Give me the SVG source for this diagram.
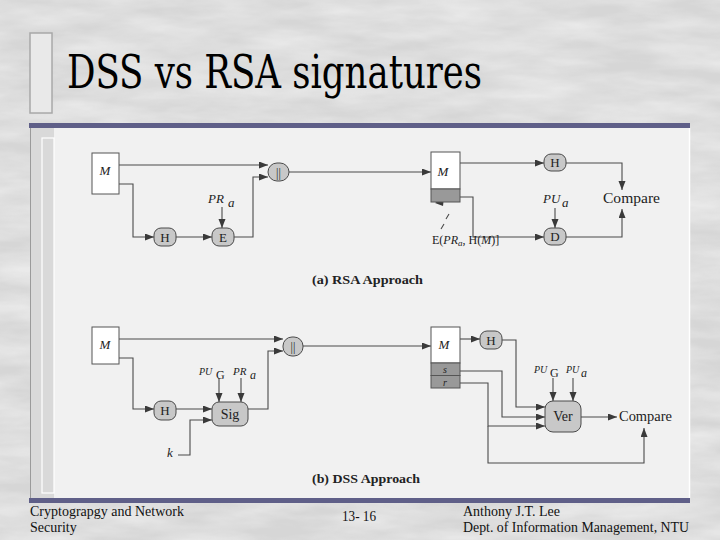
<svg xmlns="http://www.w3.org/2000/svg" width="720" height="540" viewBox="0 0 720 540">
<defs>
<filter id="marble" x="0" y="0" width="100%" height="100%">
<feTurbulence type="fractalNoise" baseFrequency="0.012 0.05" numOctaves="4" seed="7" result="n"/>
<feColorMatrix type="matrix" values="0 0 0 0 1  0 0 0 0 1  0 0 0 0 1  -1.6 0 0 0 1.2" />
</filter>
<marker id="ah" markerUnits="userSpaceOnUse" markerWidth="10" markerHeight="8" refX="9" refY="3.5" orient="auto">
<path d="M0,0 L9,3.5 L0,7 z" fill="#3a3a3a"/>
</marker>
<style>
.bg{fill:#d6d6d6}
.bar{fill:#5f5f88}
.c{fill:none;stroke:#4a4a4a;stroke-width:1.1}
.a{marker-end:url(#ah)}
.box{fill:#ffffff;stroke:#555;stroke-width:1}
.nd{fill:#c8c8c8;stroke:#4a4a4a;stroke-width:1}
.dk{fill:#999999;stroke:#555;stroke-width:1}
.t{font-family:"Liberation Serif","Times New Roman",serif;fill:#222}
.i{font-style:italic}
.b{font-weight:bold}
.f{font-family:"Liberation Serif","Times New Roman",serif;fill:#111;font-size:14px}
.ttl{font-family:"DejaVu Serif Condensed","DejaVu Serif",serif;fill:#000;font-size:46px}
</style>
</defs>
<rect class="bg" x="0" y="0" width="720" height="540"/>
<rect x="0" y="0" width="720" height="540" filter="url(#marble)" opacity="0.5"/>

<!-- title -->
<g id="title">
<rect x="30" y="33" width="22" height="80" fill="#e9e9e9" stroke="#a8a8a8" stroke-width="1.5"/>
<text class="ttl" x="67" y="88" textLength="415" lengthAdjust="spacingAndGlyphs">DSS vs RSA signatures</text>
</g>

<!-- picture frame -->
<rect class="bar" x="29" y="123" width="661" height="5"/>
<rect x="30" y="128" width="659" height="370" fill="#f1f1f1"/>
<rect x="30" y="128" width="24" height="370" fill="#d9d9d9"/>
<rect x="42" y="138" width="12" height="355" fill="none" stroke="#ffffff" stroke-width="1.2"/>
<line x1="30.5" y1="128" x2="30.5" y2="498" stroke="#9a9a9a"/>
<line x1="689.5" y1="128" x2="689.5" y2="498" stroke="#ffffff" stroke-width="1.5"/>
<rect class="bar" x="29" y="498" width="661" height="5"/>

<!-- connectors -->
<g id="connectors">
<path class="c a" d="M119,165 H268"/>
<path class="c a" d="M233,237 H253 V177 H268"/>
<path class="c a" d="M119,184 H133 V237 H154"/>
<path class="c a" d="M176,237 H212"/>
<path class="c a" d="M222,207 V228"/>
<path class="c a" d="M289,172 H431"/>
<path class="c a" d="M460,163 H544"/>
<path class="c a" d="M566,163 H622 V190"/>
<path class="c a" d="M555,208 V228"/>
<path class="c a" d="M460,197 H473 V237 H544"/>
<path class="c a" d="M566,237 H622 V209"/>
<path d="M435,203 L444,197 L443,206 z" fill="#3a3a3a"/>
<path class="c" d="M446,219 L449,214 M441,229 L444,224"/>

<path class="c a" d="M119,339 H283"/>
<path class="c a" d="M119,358 H133 V409 H154"/>
<path class="c a" d="M176,409 H212"/>
<path class="c a" d="M178,455 H190 V420 H212"/>
<path class="c a" d="M219,378 V402"/>
<path class="c a" d="M241,378 V402"/>
<path class="c a" d="M248,409 H268 V351 H283"/>
<path class="c a" d="M303,346 H431"/>
<path class="c a" d="M460,339 H480"/>
<path class="c a" d="M502,340 H516 V407 H545"/>
<path class="c a" d="M460,371 H502 V417 H545"/>
<path class="c a" d="M460,383 H488 V426 H545"/>
<path class="c a" d="M488,426 V463 H644 V428"/>
<path class="c a" d="M581,417 H617"/>
<path class="c a" d="M553,378 V401"/>
<path class="c a" d="M573,378 V401"/>
</g>

<!-- RSA -->
<g id="rsa-m">
<rect class="box" x="92" y="153" width="27" height="41"/>
<text class="t i" x="105" y="175" font-size="13" text-anchor="middle">M</text>
</g>
<g id="rsa-h">
<rect class="nd" x="154" y="228" width="22" height="18" rx="7"/>
<text class="t" x="165" y="242" font-size="13" text-anchor="middle">H</text>
</g>
<g id="rsa-e">
<rect class="nd" x="212" y="228" width="22" height="18" rx="7"/>
<text class="t" x="223" y="242" font-size="13" text-anchor="middle">E</text>
</g>
<g id="rsa-pra">
<text class="t i" x="208" y="203" font-size="13">PR</text>
<text class="t i" x="228" y="207" font-size="13">a</text>
</g>
<g id="rsa-concat">
<rect class="nd" x="268" y="163" width="21" height="18" rx="9"/>
<text class="t" x="278.5" y="177" font-size="12" text-anchor="middle" fill="#666">||</text>
</g>
<g id="rsa-recv">
<rect class="box" x="431" y="152" width="29" height="37"/>
<rect class="dk" x="431" y="189" width="29" height="13"/>
<text class="t i" x="443" y="176" font-size="13" text-anchor="middle">M</text>
</g>
<g id="rsa-sig-label">
<text class="t" x="432" y="244" font-size="12">E(<tspan class="i">PR</tspan><tspan class="i" font-size="9" dy="2">a</tspan><tspan dy="-2">, H(</tspan><tspan class="i">M</tspan>)]</text>
</g>
<g id="rsa-h2">
<rect class="nd" x="544" y="154" width="22" height="17" rx="7"/>
<text class="t" x="555" y="167" font-size="13" text-anchor="middle">H</text>
</g>
<g id="rsa-pua">
<text class="t i" x="543" y="203" font-size="13">PU</text>
<text class="t i" x="562" y="207" font-size="13">a</text>
</g>
<g id="rsa-d">
<rect class="nd" x="544" y="228" width="22" height="17" rx="7"/>
<text class="t" x="555" y="241" font-size="13" text-anchor="middle">D</text>
</g>
<g id="rsa-compare">
<text class="t" x="603" y="203" font-size="14" textLength="57" lengthAdjust="spacingAndGlyphs">Compare</text>
</g>
<g id="rsa-caption">
<text class="t b" x="312" y="284" font-size="13" textLength="111" lengthAdjust="spacingAndGlyphs">(a) RSA Approach</text>
</g>

<!-- DSS -->
<g id="dss-m">
<rect class="box" x="92" y="327" width="27" height="37"/>
<text class="t i" x="105" y="349" font-size="13" text-anchor="middle">M</text>
</g>
<g id="dss-h">
<rect class="nd" x="154" y="401" width="22" height="19" rx="7"/>
<text class="t" x="165" y="415" font-size="13" text-anchor="middle">H</text>
</g>
<g id="dss-k">
<text class="t i" x="167" y="457" font-size="13">k</text>
</g>
<g id="dss-keys">
<text class="t i" x="199" y="375" font-size="10">PU</text>
<text class="t" x="216" y="379" font-size="12">G</text>
<text class="t i" x="233" y="375" font-size="11">PR</text>
<text class="t i" x="250" y="379" font-size="12">a</text>
</g>
<g id="dss-sig">
<rect class="nd" x="212" y="402" width="36" height="24" rx="7"/>
<text class="t" x="230" y="419" font-size="14" text-anchor="middle">Sig</text>
</g>
<g id="dss-concat">
<rect class="nd" x="283" y="337" width="20" height="19" rx="9"/>
<text class="t" x="293" y="351" font-size="12" text-anchor="middle" fill="#666">||</text>
</g>
<g id="dss-recv">
<rect class="box" x="431" y="327" width="29" height="36"/>
<rect class="dk" x="431" y="363" width="29" height="12.5"/>
<rect class="dk" x="431" y="375.5" width="29" height="12.5"/>
<text class="t i" x="444" y="349" font-size="13" text-anchor="middle">M</text>
<text class="t i" x="445" y="373" font-size="10" text-anchor="middle" fill="#333">s</text>
<text class="t i" x="445" y="386" font-size="10" text-anchor="middle" fill="#333">r</text>
</g>
<g id="dss-h2">
<rect class="nd" x="480" y="331" width="22" height="18" rx="7"/>
<text class="t" x="491" y="345" font-size="13" text-anchor="middle">H</text>
</g>
<g id="dss-keys2">
<text class="t i" x="534" y="373" font-size="10">PU</text>
<text class="t" x="550" y="377" font-size="12">G</text>
<text class="t i" x="566" y="373" font-size="10">PU</text>
<text class="t i" x="581" y="377" font-size="12">a</text>
</g>
<g id="dss-ver">
<rect class="nd" x="545" y="401" width="36" height="31" rx="8"/>
<text class="t" x="563" y="421" font-size="14" text-anchor="middle">Ver</text>
</g>
<g id="dss-compare">
<text class="t" x="619" y="421" font-size="14" textLength="53" lengthAdjust="spacingAndGlyphs">Compare</text>
</g>
<g id="dss-caption">
<text class="t b" x="312" y="483" font-size="13" textLength="108" lengthAdjust="spacingAndGlyphs">(b) DSS Approach</text>
</g>

<!-- footer -->
<g id="footer">
<text class="f" x="30" y="516" textLength="154" lengthAdjust="spacingAndGlyphs">Cryptograpgy and Network</text>
<text class="f" x="30" y="532">Security</text>
<text class="f" x="342" y="521" textLength="34" lengthAdjust="spacingAndGlyphs">13- 16</text>
<text class="f" x="463" y="516">Anthony J.T. Lee</text>
<text class="f" x="463" y="532" textLength="226" lengthAdjust="spacingAndGlyphs">Dept. of Information Management, NTU</text>
</g>
</svg>
